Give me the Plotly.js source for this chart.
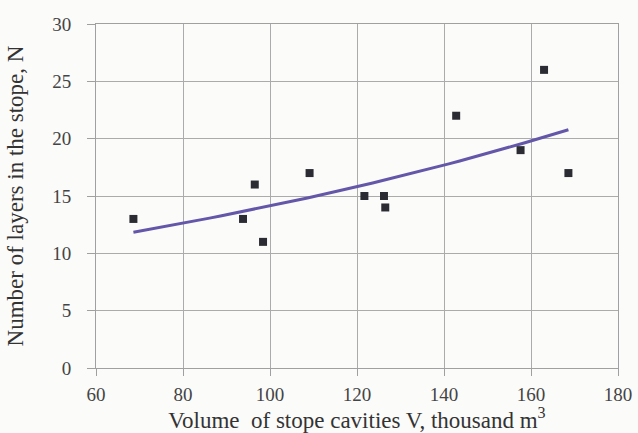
<!DOCTYPE html>
<html>
<head>
<meta charset="utf-8">
<script src="https://cdn.plot.ly/plotly-3.0.1.min.js"></script>
<style>
  html, body { margin: 0; padding: 0; background: #fbfbfa; }
  #chart { width: 638px; height: 433px; }
</style>
</head>
<body>
<div id="chart"></div>
<script>
// Observed data: volume of stope cavities (thousand m3) vs number of layers
const volume = [68.6, 93.8, 96.5, 98.4, 109.1, 121.7, 126.2, 126.5, 142.8, 157.6, 163.0, 168.6];
const layers = [13, 13, 16, 11, 17, 15, 15, 14, 22, 19, 26, 17];

const xTicks = [60, 80, 100, 120, 140, 160, 180];
const yTicks = [0, 5, 10, 15, 20, 25, 30];

// Exponential trend line (least squares on ln y), as in a spreadsheet trendline
function expFit(xs, ys) {
  const n = xs.length;
  const ly = ys.map(v => Math.log(v));
  const mx = xs.reduce((a, b) => a + b, 0) / n;
  const my = ly.reduce((a, b) => a + b, 0) / n;
  let sxy = 0, sxx = 0;
  for (let i = 0; i < n; i++) { sxy += (xs[i] - mx) * (ly[i] - my); sxx += (xs[i] - mx) ** 2; }
  const b = sxy / sxx;
  const a = Math.exp(my - b * mx);
  return x => a * Math.exp(b * x);
}
const f = expFit(volume, layers);
const xMin = Math.min(...volume), xMax = Math.max(...volume);
const trendX = [], trendY = [];
for (let i = 0; i <= 40; i++) {
  const x = xMin + (xMax - xMin) * i / 40;
  trendX.push(x); trendY.push(f(x));
}

const font = "'Liberation Serif', 'Times New Roman', serif";

const traces = [
  {
    x: trendX, y: trendY, type: 'scatter', mode: 'lines',
    line: { color: '#6456a8', width: 3 }, hoverinfo: 'skip'
  },
  {
    x: volume, y: layers, type: 'scatter', mode: 'markers',
    marker: { symbol: 'square', size: 8, color: '#2b2b33', line: { width: 0 } }
  }
];

const layout = {
  width: 638, height: 433,
  margin: { l: 96, r: 20, t: 24, b: 65 },
  paper_bgcolor: '#fbfbfa',
  plot_bgcolor: '#fbfbfa',
  showlegend: false,
  font: { family: font, color: '#333333' },
  xaxis: {
    range: [60, 180], tickvals: xTicks, ticktext: xTicks.map(String),
    showgrid: true, gridcolor: '#ababab', gridwidth: 1,
    showline: true, linecolor: '#a0a0a0', linewidth: 1, mirror: true,
    ticks: 'outside', ticklen: 7, tickcolor: '#a0a0a0',
    tickfont: { family: font, size: 19, color: '#444' },
    ticklabelstandoff: 2,
    zeroline: false,
    title: { text: 'Volume  of stope cavities V, thousand m<sup>3</sup>', font: { family: font, size: 23, color: '#333' }, standoff: 2 }
  },
  yaxis: {
    range: [0, 30], tickvals: yTicks, ticktext: yTicks.map(String),
    showgrid: true, gridcolor: '#ababab', gridwidth: 1,
    showline: true, linecolor: '#a0a0a0', linewidth: 1, mirror: true,
    ticks: 'outside', ticklen: 8, tickcolor: '#a0a0a0',
    tickfont: { family: font, size: 19, color: '#444' },
    ticklabelstandoff: 12,
    zeroline: false,
    title: { text: 'Number of layers in the stope, N', font: { family: font, size: 23, color: '#333' }, standoff: 22 }
  }
};

Plotly.newPlot('chart', traces, layout, { staticPlot: true, displayModeBar: false });
</script>
</body>
</html>
